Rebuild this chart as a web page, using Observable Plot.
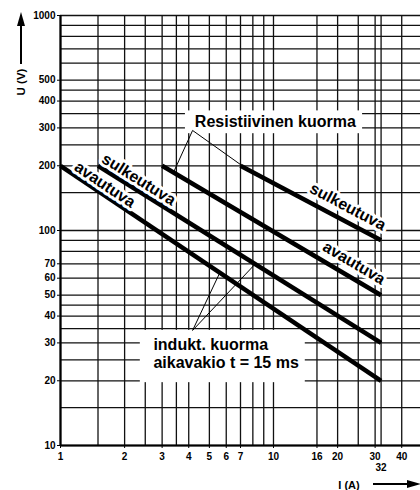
<!DOCTYPE html>
<html><head><meta charset="utf-8">
<script src="https://cdn.jsdelivr.net/npm/d3@7"></script>
<script src="https://cdn.jsdelivr.net/npm/@observablehq/plot@0.6"></script>
<style>
body{margin:0;background:#fff;}
#chart{width:420px;height:490px;overflow:hidden;}
</style>
</head><body><div id="chart"></div>
<script>
// ---- data ----
const xTickValues = [1, 2, 3, 4, 5, 6, 7, 10, 16, 20, 30, 40];
const xExtraTick = [32];
const yTickValues = [10, 20, 30, 40, 50, 60, 70, 100, 200, 300, 400, 500, 1000];
const xGridValues = [1, 1.5, 2, 2.5, 3, 3.5, 4, 5, 6, 7, 8, 9, 10, 16, 20, 25, 30, 32, 40];
const yGridValues = [10, 15, 20, 25, 30, 35, 40, 45, 50, 60, 70, 80, 90, 100, 150, 200, 250, 300, 350, 400, 450, 500, 600, 700, 800, 900, 1000];

const seriesNames = ["indukt. avautuva", "indukt. sulkeutuva", "resist. avautuva", "resist. sulkeutuva"];
const seriesLabels = ["avautuva", "sulkeutuva", "avautuva", "sulkeutuva"];
const seriesI = [[1, 32], [1.5, 32], [3, 32], [7, 32]];
const seriesU = [[200, 20], [200, 30], [200, 50], [200, 90]];

// where along each line its label sits (I value) and how far above the line (px)
const labelAtI = [1.53, 2.2, 22.1, 20.8];
const labelOffset = [9, 10, 14, 14];

// annotations (data units)
const resistText = ["Resistiivinen kuorma"];
const resistTextPos = [[10.2, 321]];
const resistBox = [[3.86, 26.2, 282, 360]];
const resistPointerFrom = [4.17, 292];
const resistPointerTo = [[3.39, 186], [7.5, 193]];

const inductText = ["indukt. kuorma", "aikavakio t = 15 ms"];
const inductTextPos = [[2.73, 29.5], [2.73, 24.3]];
const inductBox = [[2.37, 14.1, 19.6, 34.3]];
const inductPointerFrom = [4.17, 34.3];
const inductPointerTo = [[5.6, 63.7], [8.2, 69.8]];

// ---- layout ----
const W = 420, H = 490;
const mL = 60, mR = 0, mT = 15, mB = 45;
const xDomain = [1, 49], yDomain = [10, 1000];
const font = "'Liberation Sans', Arial, Helvetica, sans-serif";

// mirror scales to compute label angles
const xs = d3.scaleLog().domain(xDomain).range([mL, W - mR]);
const ys = d3.scaleLog().domain(yDomain).range([H - mB, mT]);

const rows = [];
seriesNames.forEach((n, k) => {
  seriesI[k].forEach((I, j) => rows.push({name: n, I, U: seriesU[k][j]}));
});

const labelMarks = seriesLabels.map((t, k) => {
  const [i1, i2] = seriesI[k], [u1, u2] = seriesU[k];
  const ang = Math.atan2(ys(u2) - ys(u1), xs(i2) - xs(i1));
  const I = labelAtI[k];
  const f = Math.log(I / i1) / Math.log(i2 / i1);
  const U = Math.exp(Math.log(u1) + f * Math.log(u2 / u1));
  const d = labelOffset[k];
  return Plot.text([{I, U, t}], {
    x: "I", y: "U", text: "t",
    rotate: ang * 180 / Math.PI,
    dx: d * Math.sin(ang), dy: -d * Math.cos(ang),
    fontSize: 16, fontWeight: "bold", fill: "black",
    stroke: "white", strokeWidth: 6, strokeLinejoin: "round", paintOrder: "stroke"
  });
});

const boxRows = resistBox.concat(inductBox).map(b => ({x1: b[0], x2: b[1], y1: b[2], y2: b[3]}));
const pointerRows = resistPointerTo.map(p => ({x1: resistPointerFrom[0], y1: resistPointerFrom[1], x2: p[0], y2: p[1]}))
  .concat(inductPointerTo.map(p => ({x1: inductPointerFrom[0], y1: inductPointerFrom[1], x2: p[0], y2: p[1]})));

const chart = Plot.plot({
  width: W, height: H,
  marginLeft: mL, marginRight: mR, marginTop: mT, marginBottom: mB,
  style: {fontFamily: font, fontWeight: "bold", fontSize: "10px", background: "white", color: "black", overflow: "visible"},
  x: {type: "log", domain: xDomain},
  y: {type: "log", domain: yDomain},
  marks: [
    Plot.ruleX(xGridValues, {stroke: "#111", strokeWidth: 1.3}),
    Plot.ruleY(yGridValues, {stroke: "#111", strokeWidth: 1.3}),
    Plot.rect(boxRows, {x1: "x1", x2: "x2", y1: "y1", y2: "y2", fill: "white"}),
    Plot.ruleX([xDomain[0]], {stroke: "black", strokeWidth: 2.2}),
    Plot.ruleY([yDomain[0]], {stroke: "black", strokeWidth: 2.2}),
    Plot.line(rows, {x: "I", y: "U", z: "name", stroke: "black", strokeWidth: 4.5, strokeLinecap: "butt"}),
    Plot.link(pointerRows, {x1: "x1", y1: "y1", x2: "x2", y2: "y2", stroke: "black", strokeWidth: 1}),
    ...labelMarks,
    Plot.text(resistText, {x: () => resistTextPos[0][0], y: () => resistTextPos[0][1], text: d => d,
      fontSize: 16, fontWeight: "bold", fill: "black", textAnchor: "middle"}),
    Plot.text(inductText, {x: (d, i) => inductTextPos[i][0], y: (d, i) => inductTextPos[i][1], text: d => d,
      fontSize: 16, fontWeight: "bold", fill: "black", textAnchor: "start"}),
    // y axis: tick marks from the axis mark, labels as text (log tick formatting would drop 60 and 70)
    Plot.axisY({ticks: yTickValues, tickSize: 3, tickFormat: () => "", label: null}),
    Plot.text(yTickValues, {x: () => xDomain[0], y: d => d, text: d => String(d), dx: -5, textAnchor: "end",
      fontSize: 10, fontWeight: "bold", fill: "black"}),
    Plot.axisX({ticks: xTickValues, tickSize: 3, tickPadding: 4, tickFormat: d => String(d), label: null, fontSize: 10, fontWeight: "bold"}),
    Plot.axisX({ticks: xExtraTick, tickSize: 0, tickPadding: 18, tickFormat: d => String(d), label: null, fontSize: 10, fontWeight: "bold"})
  ]
});
document.getElementById("chart").appendChild(chart);

// axis titles with arrows
const svg = d3.select(chart);
const deco = svg.append("g").attr("fill", "black").attr("stroke", "none");
deco.append("text")
  .attr("transform", "translate(21,82) rotate(-90)")
  .attr("text-anchor", "middle").attr("dominant-baseline", "central")
  .style("font", `bold 11.5px ${font}`).text("U (V)");
deco.append("line").attr("x1", 21).attr("x2", 21).attr("y1", 64).attr("y2", 22)
  .attr("stroke", "black").attr("stroke-width", 2);
deco.append("path").attr("d", "M21,12 L17,26 L25,26 Z");
deco.append("text")
  .attr("x", 349).attr("y", 485).attr("text-anchor", "middle").attr("dominant-baseline", "central")
  .style("font", `bold 11px ${font}`).text("I (A)");
deco.append("line").attr("x1", 373).attr("x2", 410).attr("y1", 484).attr("y2", 484)
  .attr("stroke", "black").attr("stroke-width", 2);
deco.append("path").attr("d", "M421,484 L407,480 L407,488 Z");
</script>
</body></html>
